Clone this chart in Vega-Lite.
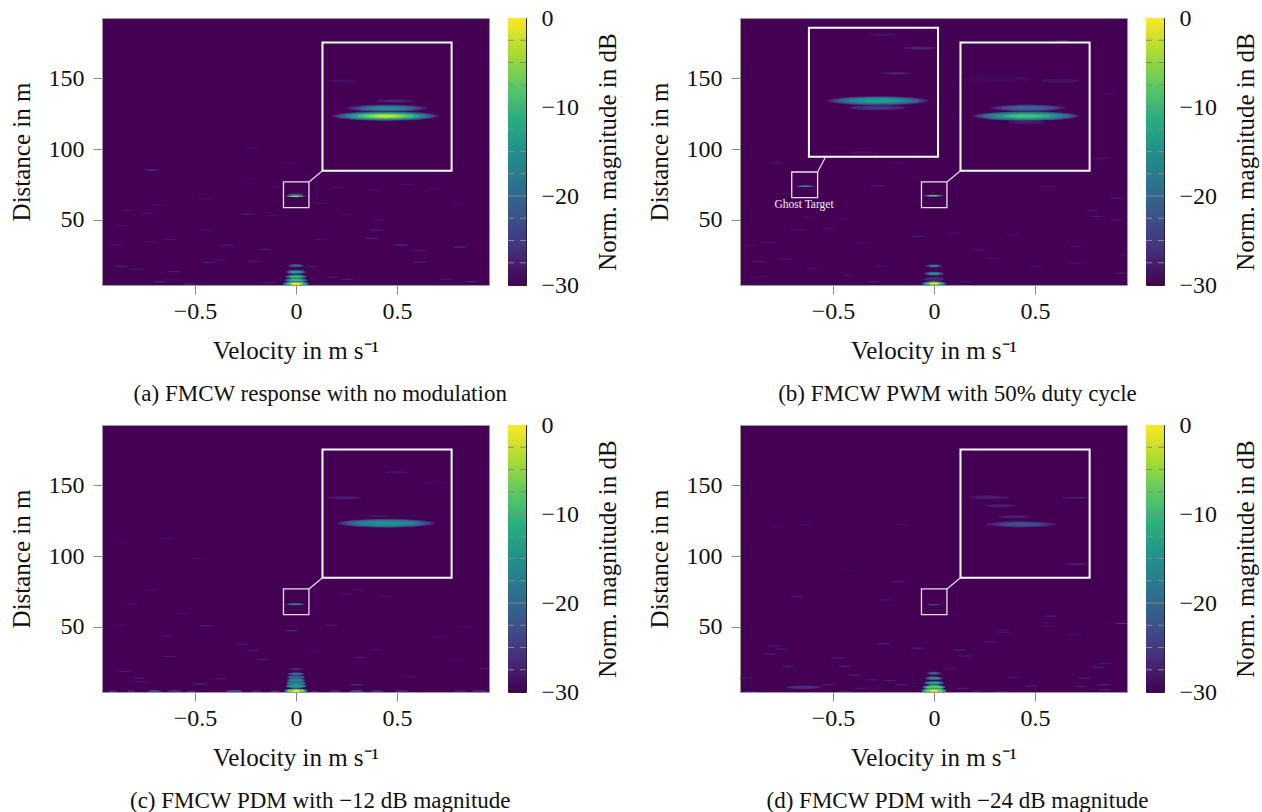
{"$schema":"https://vega.github.io/schema/vega-lite/v6.json","autosize":{"type":"pad"},"padding":{"left":8,"top":5,"right":0,"bottom":0},"background":"white","bounds":"flush","align":"each","columns":5,"spacing":{"row":140,"column":19},
"config":{"view":{"stroke":"#999999","strokeWidth":1},"axis":{"grid":false,"domain":false,"labelFont":"Liberation Serif","titleFont":"Liberation Serif","labelFontSize":24,"titleFontSize":25,"titleFontWeight":"normal","labelColor":"#111111","titleColor":"#111111","tickColor":"#888888","tickSize":9,"labelOverlap":false,"labelFlush":false},"text":{"font":"Liberation Serif"}},
"datasets":{
"bar":[{"v0":0,"d0":-30,"d1":0}],
"minor":[{"d0":-27.5},{"d0":-25},{"d0":-22.5},{"d0":-17.5},{"d0":-15},{"d0":-12.5},{"d0":-7.5},{"d0":-5},{"d0":-2.5}],
"major":[{"d0":-20},{"d0":-10}],
"inset":[{"v0":0.131,"v1":0.77,"d0":84.7,"d1":175.1}],
"small":[{"v0":-0.062,"v1":0.064,"d0":58.7,"d1":76.8}],
"link":[{"v0":0.064,"v1":0.131,"d0":76.8,"d1":84.7}],
"inset_b":[{"v0":0.131,"v1":0.77,"d0":84.7,"d1":175.1},{"v0":-0.619,"v1":0.02,"d0":94.6,"d1":185.4}],
"small_b":[{"v0":-0.062,"v1":0.064,"d0":58.7,"d1":76.8},{"v0":-0.704,"v1":-0.576,"d0":65.7,"d1":83.8}],
"link_b":[{"v0":0.064,"v1":0.131,"d0":76.8,"d1":84.7},{"v0":-0.576,"v1":-0.536,"d0":83.8,"d1":94.6}],
"noise_a":[{"v0":-0.832,"d0":56.6,"db":-27},{"v0":-0.856,"d0":46,"db":-28},{"v0":-0.738,"d0":54.7,"db":-27},{"v0":-0.683,"d0":60.6,"db":-28},{"v0":-0.238,"d0":54.2,"db":-26},{"v0":-0.122,"d0":53.1,"db":-28},{"v0":0.117,"d0":61.8,"db":-28},{"v0":0.246,"d0":54,"db":-28},{"v0":0.398,"d0":43,"db":-26},{"v0":0.373,"d0":37.1,"db":-25},{"v0":0.521,"d0":32.4,"db":-24},{"v0":0.81,"d0":30.8,"db":-25},{"v0":0.612,"d0":28.4,"db":-27},{"v0":0.612,"d0":20.2,"db":-26},{"v0":-0.436,"d0":20,"db":-25},{"v0":-0.378,"d0":21.4,"db":-28},{"v0":-0.205,"d0":20.9,"db":-27},{"v0":-0.155,"d0":29.4,"db":-27},{"v0":-0.337,"d0":32,"db":-27},{"v0":-0.625,"d0":36.4,"db":-27},{"v0":-0.444,"d0":43,"db":-28},{"v0":-0.716,"d0":34.8,"db":-28},{"v0":-0.889,"d0":32.4,"db":-28},{"v0":-0.865,"d0":17.2,"db":-26},{"v0":-0.782,"d0":15.3,"db":-27},{"v0":-0.601,"d0":13.6,"db":-26},{"v0":-0.675,"d0":6.6,"db":-25},{"v0":-0.526,"d0":4.7,"db":-26},{"v0":-0.617,"d0":7.8,"db":-28},{"v0":0.257,"d0":8.2,"db":-26},{"v0":0.183,"d0":9.6,"db":-27},{"v0":0.125,"d0":36.4,"db":-28},{"v0":0.744,"d0":8.2,"db":-27},{"v0":0.868,"d0":6.6,"db":-25},{"v0":0.802,"d0":61.3,"db":-28},{"v0":0.076,"d0":17.2,"db":-27},{"v0":-0.13,"d0":5.9,"db":-27},{"v0":0.414,"d0":50,"db":-28},{"v0":-0.715,"d0":85.2,"db":-22},{"v0":-0.22,"d0":79,"db":-28},{"v0":-0.1,"d0":73,"db":-28},{"v0":0.2,"d0":73,"db":-28},{"v0":-0.45,"d0":65,"db":-28},{"v0":0.38,"d0":71,"db":-28},{"v0":0.55,"d0":75,"db":-28},{"v0":0.68,"d0":72,"db":-28},{"v0":-0.22,"d0":101,"db":-28.5},{"v0":-0.03,"d0":90,"db":-28.5}],
"noise_b":[{"v0":-0.779,"d0":90.4,"db":-27},{"v0":-0.278,"d0":74,"db":-27},{"v0":-0.177,"d0":90,"db":-28},{"v0":0.905,"d0":65.3,"db":-26},{"v0":0.785,"d0":56.6,"db":-27},{"v0":0.905,"d0":50,"db":-27},{"v0":-0.678,"d0":43,"db":-28},{"v0":-0.518,"d0":44.2,"db":-28},{"v0":-0.077,"d0":38.3,"db":-26},{"v0":0.384,"d0":39.5,"db":-28},{"v0":-0.819,"d0":34.1,"db":-27},{"v0":-0.919,"d0":31.8,"db":-28},{"v0":0.223,"d0":29,"db":-27},{"v0":-0.738,"d0":22.4,"db":-27},{"v0":-0.869,"d0":20.7,"db":-27},{"v0":-0.258,"d0":17.2,"db":-28},{"v0":0.504,"d0":17.2,"db":-28},{"v0":0.945,"d0":25.4,"db":-28},{"v0":-0.358,"d0":33.6,"db":-28},{"v0":0.825,"d0":93.5,"db":-28},{"v0":0.865,"d0":138.6,"db":-28.5},{"v0":0.704,"d0":31.3,"db":-28},{"v0":0.564,"d0":73.5,"db":-28},{"v0":0.805,"d0":52.4,"db":-27},{"v0":-0.458,"d0":51.2,"db":-28},{"v0":-0.618,"d0":52,"db":-28},{"v0":0.103,"d0":40.7,"db":-28},{"v0":-0.298,"d0":6.6,"db":-27},{"v0":0.163,"d0":6.6,"db":-27},{"v0":0.925,"d0":12.5,"db":-27},{"v0":0.704,"d0":19.6,"db":-28},{"v0":0.632,"d0":176.2,"db":-24},{"v0":-0.6,"d0":16,"db":-28},{"v0":-0.42,"d0":11,"db":-28},{"v0":0.3,"d0":23,"db":-28},{"v0":-0.85,"d0":10,"db":-28}],
"noise_c":[{"v0":-0.872,"d0":109.8,"db":-28.5},{"v0":-0.645,"d0":112.4,"db":-28.5},{"v0":-0.495,"d0":98.1,"db":-28.5},{"v0":-0.715,"d0":75.8,"db":-28},{"v0":-0.816,"d0":66.2,"db":-28},{"v0":-0.565,"d0":59.6,"db":-28},{"v0":-0.445,"d0":50.9,"db":-26},{"v0":-0.645,"d0":43.6,"db":-27},{"v0":-0.265,"d0":37.8,"db":-27},{"v0":-0.214,"d0":33.3,"db":-27},{"v0":-0.164,"d0":27.2,"db":-26},{"v0":0.317,"d0":28.6,"db":-27},{"v0":0.397,"d0":34.3,"db":-28},{"v0":0.838,"d0":49.8,"db":-28},{"v0":0.697,"d0":43.2,"db":-28},{"v0":0.256,"d0":73.2,"db":-28},{"v0":0.307,"d0":76.5,"db":-28},{"v0":0.176,"d0":51.2,"db":-28},{"v0":-0.024,"d0":47.4,"db":-25},{"v0":0.777,"d0":26.7,"db":-28},{"v0":-0.846,"d0":18.5,"db":-27},{"v0":-0.766,"d0":11.5,"db":-27},{"v0":-0.475,"d0":9.8,"db":-24},{"v0":-0.375,"d0":13.4,"db":-27},{"v0":0.938,"d0":20.9,"db":-27},{"v0":0.557,"d0":15,"db":-28},{"v0":0.437,"d0":71.3,"db":-28.5},{"v0":-0.866,"d0":51.4,"db":-28.5},{"v0":0.096,"d0":32.6,"db":-28},{"v0":-0.625,"d0":29.1,"db":-27},{"v0":0.299,"d0":9.2,"db":-24},{"v0":-0.78,"d0":14,"db":-26}],
"noise_d":[{"v0":0.581,"d0":57.8,"db":-28},{"v0":0.548,"d0":53.1,"db":-28},{"v0":0.928,"d0":52.6,"db":-22},{"v0":0.573,"d0":50.3,"db":-28},{"v0":0.35,"d0":46.3,"db":-28},{"v0":0.697,"d0":44.4,"db":-28},{"v0":0.276,"d0":39.2,"db":-27},{"v0":-0.252,"d0":38.1,"db":-25},{"v0":-0.788,"d0":36.6,"db":-27},{"v0":-0.755,"d0":34.3,"db":-27},{"v0":-0.079,"d0":35,"db":-26},{"v0":0.127,"d0":33.8,"db":-26},{"v0":-0.813,"d0":30.8,"db":-26},{"v0":0.152,"d0":29.6,"db":-27},{"v0":0.845,"d0":24.4,"db":-27},{"v0":0.812,"d0":21.6,"db":-26},{"v0":-0.442,"d0":22.1,"db":-25},{"v0":-0.722,"d0":22.1,"db":-26},{"v0":0.086,"d0":20.9,"db":-27},{"v0":-0.392,"d0":16.2,"db":-26},{"v0":-0.937,"d0":13.9,"db":-27},{"v0":-0.31,"d0":12.7,"db":-27},{"v0":-0.219,"d0":12.2,"db":-26},{"v0":0.391,"d0":14.6,"db":-27},{"v0":0.746,"d0":13.9,"db":-26},{"v0":0.837,"d0":9.2,"db":-25},{"v0":0.845,"d0":5.7,"db":-25},{"v0":-0.359,"d0":6.8,"db":-26},{"v0":-0.442,"d0":4.5,"db":-26},{"v0":-0.524,"d0":9.2,"db":-26},{"v0":0.136,"d0":6.8,"db":-26},{"v0":0.482,"d0":8.5,"db":-26},{"v0":0.73,"d0":8,"db":-26},{"v0":-0.162,"d0":9.2,"db":-26},{"v0":-0.475,"d0":28.4,"db":-27},{"v0":-0.904,"d0":4.5,"db":-27},{"v0":0.334,"d0":4.5,"db":-26},{"v0":0.218,"d0":5,"db":-26},{"v0":-0.157,"d0":122.3,"db":-28},{"v0":-0.779,"d0":120.2,"db":-28.5},{"v0":-0.638,"d0":121.8,"db":-28.5},{"v0":-0.177,"d0":81.9,"db":-27},{"v0":-0.678,"d0":71.4,"db":-27},{"v0":-0.238,"d0":69,"db":-28},{"v0":-0.418,"d0":89.4,"db":-28.5},{"v0":0.574,"d0":57.3,"db":-28},{"v0":0.344,"d0":47.9,"db":-28},{"v0":0.284,"d0":39.7,"db":-28}],
"blob_a":[{"v0":0.225,"d0":148,"span":0.15,"db":-29},{"v0":0.748,"d0":148,"span":0.024,"db":-29},{"v0":0.49,"d0":133.8,"span":0.185,"db":-28},{"v0":0.49,"d0":133.8,"span":0.1,"db":-26.5},{"v0":0.451,"d0":128.7,"span":0.402,"db":-28},{"v0":0.451,"d0":128.7,"span":0.36,"db":-25},{"v0":0.451,"d0":128.7,"span":0.31,"db":-22},{"v0":0.451,"d0":128.7,"span":0.26,"db":-19},{"v0":0.451,"d0":128.7,"span":0.2,"db":-17},{"v0":0.451,"d0":128.7,"span":0.14,"db":-15.5},{"v0":0.443,"d0":123.2,"span":0.543,"db":-29},{"v0":0.443,"d0":123.2,"span":0.52,"db":-27},{"v0":0.443,"d0":123.2,"span":0.49,"db":-24},{"v0":0.443,"d0":123.2,"span":0.46,"db":-21},{"v0":0.443,"d0":123.2,"span":0.42,"db":-18},{"v0":0.443,"d0":123.2,"span":0.38,"db":-15},{"v0":0.443,"d0":123.2,"span":0.33,"db":-12},{"v0":0.443,"d0":123.2,"span":0.28,"db":-9},{"v0":0.443,"d0":123.2,"span":0.23,"db":-7},{"v0":0.443,"d0":123.2,"span":0.18,"db":-5},{"v0":0.443,"d0":123.2,"span":0.13,"db":-3},{"v0":0.443,"d0":123.2,"span":0.09,"db":-1.5},{"v0":-0.003,"d0":68,"span":0.075,"db":-22},{"v0":-0.003,"d0":66.7,"span":0.101,"db":-25},{"v0":-0.003,"d0":66.7,"span":0.09,"db":-18},{"v0":-0.003,"d0":66.7,"span":0.078,"db":-10},{"v0":-0.003,"d0":66.7,"span":0.05,"db":-3}],
"clutter_a":[{"v0":0,"d0":17.8,"span":0.08,"db":-27},{"v0":0,"d0":17.8,"span":0.06,"db":-20},{"v0":0,"d0":13.4,"span":0.1,"db":-25},{"v0":0,"d0":13.4,"span":0.08,"db":-18},{"v0":0,"d0":13.4,"span":0.05,"db":-13},{"v0":0,"d0":10.1,"span":0.104,"db":-22},{"v0":0,"d0":10.1,"span":0.07,"db":-11},{"v0":0,"d0":7.6,"span":0.11,"db":-20},{"v0":0,"d0":7.6,"span":0.07,"db":-10},{"v0":0,"d0":5,"span":0.13,"db":-20},{"v0":0,"d0":5,"span":0.1,"db":-10},{"v0":0,"d0":5,"span":0.06,"db":-1}],
"blob_b":[{"v0":0.317,"d0":149.3,"span":0.345,"db":-29.5},{"v0":0.622,"d0":148,"span":0.195,"db":-29},{"v0":0.459,"d0":118.8,"span":0.182,"db":-28},{"v0":0.463,"d0":128.9,"span":0.372,"db":-28},{"v0":0.463,"d0":128.9,"span":0.32,"db":-25},{"v0":0.463,"d0":128.9,"span":0.26,"db":-22.5},{"v0":0.463,"d0":128.9,"span":0.18,"db":-20.5},{"v0":0.463,"d0":128.9,"span":0.1,"db":-19.5},{"v0":0.456,"d0":123.2,"span":0.523,"db":-27},{"v0":0.456,"d0":123.2,"span":0.49,"db":-24},{"v0":0.456,"d0":123.2,"span":0.45,"db":-21},{"v0":0.456,"d0":123.2,"span":0.41,"db":-18.5},{"v0":0.456,"d0":123.2,"span":0.36,"db":-16},{"v0":0.456,"d0":123.2,"span":0.3,"db":-13.5},{"v0":0.456,"d0":123.2,"span":0.24,"db":-11},{"v0":0.456,"d0":123.2,"span":0.17,"db":-9},{"v0":0.456,"d0":123.2,"span":0.1,"db":-8},{"v0":-0.28,"d0":129.1,"span":0.272,"db":-27},{"v0":-0.28,"d0":129.1,"span":0.16,"db":-25.5},{"v0":-0.277,"d0":134,"span":0.498,"db":-27},{"v0":-0.277,"d0":134,"span":0.45,"db":-24},{"v0":-0.277,"d0":134,"span":0.4,"db":-21},{"v0":-0.277,"d0":134,"span":0.35,"db":-18.5},{"v0":-0.277,"d0":134,"span":0.29,"db":-16},{"v0":-0.277,"d0":134,"span":0.22,"db":-14.5},{"v0":-0.277,"d0":134,"span":0.13,"db":-13},{"v0":-0.185,"d0":153.3,"span":0.149,"db":-28},{"v0":-0.185,"d0":153.3,"span":0.08,"db":-27},{"v0":-0.07,"d0":171.1,"span":0.166,"db":-28},{"v0":-0.07,"d0":171.1,"span":0.1,"db":-26.5},{"v0":-0.255,"d0":180.5,"span":0.144,"db":-29},{"v0":-0.35,"d0":97.4,"span":0.149,"db":-29},{"v0":-0.003,"d0":67.1,"span":0.105,"db":-26},{"v0":-0.003,"d0":67.1,"span":0.09,"db":-19},{"v0":-0.003,"d0":67.1,"span":0.07,"db":-11},{"v0":-0.003,"d0":67.1,"span":0.04,"db":-6},{"v0":-0.636,"d0":73.7,"span":0.094,"db":-26},{"v0":-0.636,"d0":73.7,"span":0.08,"db":-19},{"v0":-0.636,"d0":73.7,"span":0.055,"db":-13}],
"clutter_b":[{"v0":0,"d0":17.6,"span":0.08,"db":-26},{"v0":0,"d0":17.6,"span":0.05,"db":-17},{"v0":0,"d0":8.5,"span":0.1,"db":-27},{"v0":0,"d0":12.2,"span":0.096,"db":-24},{"v0":0,"d0":12.2,"span":0.06,"db":-15},{"v0":0,"d0":5.2,"span":0.12,"db":-20},{"v0":0,"d0":5.2,"span":0.09,"db":-10},{"v0":0,"d0":5.2,"span":0.05,"db":-1}],
"blob_c":[{"v0":0.41,"d0":128,"span":0.109,"db":-28.5},{"v0":0.24,"d0":141,"span":0.167,"db":-28},{"v0":0.24,"d0":141,"span":0.1,"db":-27.5},{"v0":0.496,"d0":158.9,"span":0.114,"db":-28.5},{"v0":0.685,"d0":151.6,"span":0.149,"db":-29.5},{"v0":0.446,"d0":123,"span":0.482,"db":-27},{"v0":0.446,"d0":123,"span":0.44,"db":-24},{"v0":0.446,"d0":123,"span":0.39,"db":-21},{"v0":0.446,"d0":123,"span":0.34,"db":-18.5},{"v0":0.446,"d0":123,"span":0.28,"db":-16.5},{"v0":0.446,"d0":123,"span":0.2,"db":-15.5},{"v0":0.446,"d0":123,"span":0.13,"db":-15},{"v0":-0.003,"d0":66,"span":0.091,"db":-24},{"v0":-0.003,"d0":66,"span":0.08,"db":-17},{"v0":-0.003,"d0":66,"span":0.055,"db":-13}],
"clutter_c":[{"v0":0,"d0":20.2,"span":0.06,"db":-27},{"v0":0,"d0":16.9,"span":0.08,"db":-24},{"v0":0,"d0":16.9,"span":0.05,"db":-19},{"v0":0,"d0":14.6,"span":0.085,"db":-21},{"v0":0,"d0":12.5,"span":0.09,"db":-22},{"v0":0,"d0":12.5,"span":0.07,"db":-16},{"v0":0,"d0":10.4,"span":0.095,"db":-18},{"v0":0,"d0":8.4,"span":0.104,"db":-20},{"v0":0,"d0":8.4,"span":0.08,"db":-14},{"v0":0,"d0":5,"span":0.116,"db":-17},{"v0":0,"d0":5,"span":0.09,"db":-6},{"v0":0,"d0":4.8,"span":0.04,"db":0},{"v0":-0.907,"d0":4.6,"span":0.045,"db":-26},{"v0":-0.815,"d0":4.6,"span":0.04,"db":-26},{"v0":-0.7,"d0":4.6,"span":0.07,"db":-24},{"v0":-0.6,"d0":4.6,"span":0.07,"db":-26},{"v0":-0.517,"d0":4.6,"span":0.045,"db":-26},{"v0":-0.305,"d0":4.6,"span":0.08,"db":-24},{"v0":-0.195,"d0":4.6,"span":0.05,"db":-26},{"v0":-0.105,"d0":4.6,"span":0.05,"db":-26},{"v0":0.092,"d0":4.6,"span":0.035,"db":-26},{"v0":0.192,"d0":4.6,"span":0.055,"db":-27},{"v0":0.3,"d0":4.6,"span":0.07,"db":-24},{"v0":0.4,"d0":4.6,"span":0.06,"db":-26},{"v0":0.522,"d0":4.6,"span":0.065,"db":-27},{"v0":0.81,"d0":4.6,"span":0.06,"db":-27},{"v0":0.91,"d0":4.6,"span":0.08,"db":-27}],
"blob_d":[{"v0":0.432,"d0":122.3,"span":0.35,"db":-28},{"v0":0.432,"d0":122.3,"span":0.29,"db":-26},{"v0":0.432,"d0":122.3,"span":0.23,"db":-24},{"v0":0.432,"d0":122.3,"span":0.16,"db":-22.5},{"v0":0.4,"d0":127.7,"span":0.165,"db":-28},{"v0":0.4,"d0":127.7,"span":0.09,"db":-27},{"v0":0.33,"d0":135.4,"span":0.157,"db":-28},{"v0":0.33,"d0":135.4,"span":0.09,"db":-27},{"v0":0.273,"d0":141.3,"span":0.206,"db":-28.5},{"v0":0.273,"d0":141.3,"span":0.11,"db":-27.5},{"v0":0.697,"d0":141,"span":0.13,"db":-28},{"v0":0.705,"d0":94.2,"span":0.113,"db":-28},{"v0":0.705,"d0":94.2,"span":0.06,"db":-27},{"v0":-0.003,"d0":65.7,"span":0.066,"db":-26},{"v0":-0.003,"d0":65.7,"span":0.05,"db":-22},{"v0":-0.644,"d0":7.5,"span":0.174,"db":-26}],
"clutter_d":[{"v0":0,"d0":17.4,"span":0.07,"db":-24},{"v0":0,"d0":17.4,"span":0.04,"db":-19},{"v0":0,"d0":13.9,"span":0.084,"db":-22},{"v0":0,"d0":13.9,"span":0.056,"db":-17},{"v0":0,"d0":10.6,"span":0.096,"db":-20},{"v0":0,"d0":10.6,"span":0.06,"db":-13},{"v0":0,"d0":7.6,"span":0.11,"db":-15},{"v0":0,"d0":7.6,"span":0.08,"db":-8},{"v0":0,"d0":5,"span":0.124,"db":-14},{"v0":0,"d0":5,"span":0.09,"db":-6},{"v0":0,"d0":5,"span":0.044,"db":0}]
},
"concat":[
{"width":387,"height":267,"view":{"fill":"#440154"},"encoding":{"x":{"field":"v0","type":"quantitative","scale":{"domain":[-0.96,0.955]},"axis":{"values":[-0.5,0,0.5],"format":".1~f","labelPadding":5,"titlePadding":15},"title":"Velocity in m s⁻¹"},"y":{"field":"d0","type":"quantitative","scale":{"domain":[4.2,192.3]},"axis":{"values":[50,100,150],"labelPadding":9,"titlePadding":14},"title":"Distance in m"}},
"layer":[
{"data":{"name":"noise_a"},"mark":{"type":"point","clip":true,"shape":"M-1,0C-1,-0.05,-0.55,-0.09,0,-0.09C0.55,-0.09,1,-0.05,1,0C1,0.05,0.55,0.09,0,0.09C-0.55,0.09,-1,0.05,-1,0Z","filled":true,"size":220,"opacity":0.7,"strokeWidth":0},"encoding":{"color":{"field":"db","type":"quantitative","scale":{"scheme":"viridis","domain":[-30,0]},"legend":null}}},
{"data":{"name":"inset"},"mark":{"type":"rect","fill":"#440154","stroke":"white","strokeWidth":2},"encoding":{"x2":{"field":"v1"},"y2":{"field":"d1"}}},
{"data":{"name":"blob_a"},"mark":{"type":"point","shape":"M-1,0C-1,-0.05,-0.55,-0.09,0,-0.09C0.55,-0.09,1,-0.05,1,0C1,0.05,0.55,0.09,0,0.09C-0.55,0.09,-1,0.05,-1,0Z","filled":true,"opacity":1,"strokeWidth":0},"encoding":{"size":{"field":"span","type":"quantitative","scale":{"type":"pow","exponent":2,"domain":[0,1],"range":[0,40804]},"legend":null},"color":{"field":"db","type":"quantitative","scale":{"scheme":"viridis","domain":[-30,0]},"legend":null}}},
{"data":{"name":"clutter_a"},"mark":{"type":"point","clip":true,"shape":"M-1,0C-1,-0.11,-0.55,-0.2,0,-0.2C0.55,-0.2,1,-0.11,1,0C1,0.11,0.55,0.2,0,0.2C-0.55,0.2,-1,0.11,-1,0Z","filled":true,"opacity":1,"strokeWidth":0},"encoding":{"size":{"field":"span","type":"quantitative","scale":{"type":"pow","exponent":2,"domain":[0,1],"range":[0,40804]},"legend":null},"color":{"field":"db","type":"quantitative","scale":{"scheme":"viridis","domain":[-30,0]},"legend":null}}},
{"data":{"name":"small"},"mark":{"type":"rect","fillOpacity":0,"stroke":"#eadff0","strokeWidth":1.3},"encoding":{"x2":{"field":"v1"},"y2":{"field":"d1"}}},
{"data":{"name":"link"},"mark":{"type":"rule","color":"#eadff0","strokeWidth":1.2},"encoding":{"x2":{"field":"v1"},"y2":{"field":"d1"}}},
{"data":{"values":[{"v0":0.12,"d0":-72.5,"t":"(a) FMCW response with no modulation"}]},"mark":{"type":"text","fontSize":23,"color":"#111111","baseline":"middle"},"encoding":{"text":{"field":"t"}}}
]},
{"width":18,"height":267,"view":{"stroke":"#222222"},"data":{"name":"bar"},"encoding":{"y":{"field":"d0","type":"quantitative","scale":{"domain":[-30,0]},"axis":{"orient":"right","values":[-30,-20,-10,0],"format":"d","ticks":false,"labelPadding":15,"labelAlign":"left","titlePadding":42,"titleAngle":270},"title":"Norm. magnitude in dB"}},
"layer":[
{"mark":{"type":"rect","color":{"gradient":"linear","x1":0,"y1":1,"x2":0,"y2":0,"stops":[{"offset":0,"color":"#440154"},{"offset":0.125,"color":"#472d7b"},{"offset":0.25,"color":"#3b528b"},{"offset":0.375,"color":"#2c728e"},{"offset":0.5,"color":"#21918c"},{"offset":0.625,"color":"#28ae80"},{"offset":0.75,"color":"#5ec962"},{"offset":0.875,"color":"#addc30"},{"offset":1,"color":"#fde725"}]}},"encoding":{"y2":{"field":"d1"}}},
{"data":{"name":"minor"},"mark":{"type":"rule","color":"#888888","strokeWidth":1,"strokeDash":[6,6,6]},"encoding":{}},
{"data":{"name":"major"},"mark":{"type":"rule","color":"#888888","strokeWidth":1},"encoding":{}}
]},
{"width":176,"height":267,"view":{"stroke":null},"data":{"values":[]},"mark":{"type":"rect","opacity":0},"encoding":{}},
{"width":387,"height":267,"view":{"fill":"#440154"},"encoding":{"x":{"field":"v0","type":"quantitative","scale":{"domain":[-0.96,0.955]},"axis":{"values":[-0.5,0,0.5],"format":".1~f","labelPadding":5,"titlePadding":15},"title":"Velocity in m s⁻¹"},"y":{"field":"d0","type":"quantitative","scale":{"domain":[4.2,192.3]},"axis":{"values":[50,100,150],"labelPadding":9,"titlePadding":14},"title":"Distance in m"}},
"layer":[
{"data":{"name":"noise_b"},"mark":{"type":"point","clip":true,"shape":"M-1,0C-1,-0.05,-0.55,-0.09,0,-0.09C0.55,-0.09,1,-0.05,1,0C1,0.05,0.55,0.09,0,0.09C-0.55,0.09,-1,0.05,-1,0Z","filled":true,"size":220,"opacity":0.7,"strokeWidth":0},"encoding":{"color":{"field":"db","type":"quantitative","scale":{"scheme":"viridis","domain":[-30,0]},"legend":null}}},
{"data":{"name":"inset_b"},"mark":{"type":"rect","fill":"#440154","stroke":"white","strokeWidth":2},"encoding":{"x2":{"field":"v1"},"y2":{"field":"d1"}}},
{"data":{"name":"blob_b"},"mark":{"type":"point","shape":"M-1,0C-1,-0.05,-0.55,-0.09,0,-0.09C0.55,-0.09,1,-0.05,1,0C1,0.05,0.55,0.09,0,0.09C-0.55,0.09,-1,0.05,-1,0Z","filled":true,"opacity":1,"strokeWidth":0},"encoding":{"size":{"field":"span","type":"quantitative","scale":{"type":"pow","exponent":2,"domain":[0,1],"range":[0,40804]},"legend":null},"color":{"field":"db","type":"quantitative","scale":{"scheme":"viridis","domain":[-30,0]},"legend":null}}},
{"data":{"name":"clutter_b"},"mark":{"type":"point","clip":true,"shape":"M-1,0C-1,-0.11,-0.55,-0.2,0,-0.2C0.55,-0.2,1,-0.11,1,0C1,0.11,0.55,0.2,0,0.2C-0.55,0.2,-1,0.11,-1,0Z","filled":true,"opacity":1,"strokeWidth":0},"encoding":{"size":{"field":"span","type":"quantitative","scale":{"type":"pow","exponent":2,"domain":[0,1],"range":[0,40804]},"legend":null},"color":{"field":"db","type":"quantitative","scale":{"scheme":"viridis","domain":[-30,0]},"legend":null}}},
{"data":{"name":"small_b"},"mark":{"type":"rect","fillOpacity":0,"stroke":"#eadff0","strokeWidth":1.3},"encoding":{"x2":{"field":"v1"},"y2":{"field":"d1"}}},
{"data":{"name":"link_b"},"mark":{"type":"rule","color":"#eadff0","strokeWidth":1.2},"encoding":{"x2":{"field":"v1"},"y2":{"field":"d1"}}},
{"data":{"values":[{"v0":-0.643,"d0":60.6,"t":"Ghost Target"}]},"mark":{"type":"text","fontSize":11.5,"color":"#f4eef6","baseline":"middle"},"encoding":{"text":{"field":"t"}}},
{"data":{"values":[{"v0":0.116,"d0":-72.5,"t":"(b) FMCW PWM with 50% duty cycle"}]},"mark":{"type":"text","fontSize":23,"color":"#111111","baseline":"middle"},"encoding":{"text":{"field":"t"}}}
]},
{"width":18,"height":267,"view":{"stroke":"#222222"},"data":{"name":"bar"},"encoding":{"y":{"field":"d0","type":"quantitative","scale":{"domain":[-30,0]},"axis":{"orient":"right","values":[-30,-20,-10,0],"format":"d","ticks":false,"labelPadding":15,"labelAlign":"left","titlePadding":42,"titleAngle":270},"title":"Norm. magnitude in dB"}},
"layer":[
{"mark":{"type":"rect","color":{"gradient":"linear","x1":0,"y1":1,"x2":0,"y2":0,"stops":[{"offset":0,"color":"#440154"},{"offset":0.125,"color":"#472d7b"},{"offset":0.25,"color":"#3b528b"},{"offset":0.375,"color":"#2c728e"},{"offset":0.5,"color":"#21918c"},{"offset":0.625,"color":"#28ae80"},{"offset":0.75,"color":"#5ec962"},{"offset":0.875,"color":"#addc30"},{"offset":1,"color":"#fde725"}]}},"encoding":{"y2":{"field":"d1"}}},
{"data":{"name":"minor"},"mark":{"type":"rule","color":"#888888","strokeWidth":1,"strokeDash":[6,6,6]},"encoding":{}},
{"data":{"name":"major"},"mark":{"type":"rule","color":"#888888","strokeWidth":1},"encoding":{}}
]},
{"width":387,"height":267,"view":{"fill":"#440154"},"encoding":{"x":{"field":"v0","type":"quantitative","scale":{"domain":[-0.96,0.955]},"axis":{"values":[-0.5,0,0.5],"format":".1~f","labelPadding":5,"titlePadding":15},"title":"Velocity in m s⁻¹"},"y":{"field":"d0","type":"quantitative","scale":{"domain":[4.2,192.3]},"axis":{"values":[50,100,150],"labelPadding":9,"titlePadding":14},"title":"Distance in m"}},
"layer":[
{"data":{"name":"noise_c"},"mark":{"type":"point","clip":true,"shape":"M-1,0C-1,-0.05,-0.55,-0.09,0,-0.09C0.55,-0.09,1,-0.05,1,0C1,0.05,0.55,0.09,0,0.09C-0.55,0.09,-1,0.05,-1,0Z","filled":true,"size":220,"opacity":0.7,"strokeWidth":0},"encoding":{"color":{"field":"db","type":"quantitative","scale":{"scheme":"viridis","domain":[-30,0]},"legend":null}}},
{"data":{"name":"inset"},"mark":{"type":"rect","fill":"#440154","stroke":"white","strokeWidth":2},"encoding":{"x2":{"field":"v1"},"y2":{"field":"d1"}}},
{"data":{"name":"blob_c"},"mark":{"type":"point","shape":"M-1,0C-1,-0.05,-0.55,-0.09,0,-0.09C0.55,-0.09,1,-0.05,1,0C1,0.05,0.55,0.09,0,0.09C-0.55,0.09,-1,0.05,-1,0Z","filled":true,"opacity":1,"strokeWidth":0},"encoding":{"size":{"field":"span","type":"quantitative","scale":{"type":"pow","exponent":2,"domain":[0,1],"range":[0,40804]},"legend":null},"color":{"field":"db","type":"quantitative","scale":{"scheme":"viridis","domain":[-30,0]},"legend":null}}},
{"data":{"name":"clutter_c"},"mark":{"type":"point","clip":true,"shape":"M-1,0C-1,-0.11,-0.55,-0.2,0,-0.2C0.55,-0.2,1,-0.11,1,0C1,0.11,0.55,0.2,0,0.2C-0.55,0.2,-1,0.11,-1,0Z","filled":true,"opacity":1,"strokeWidth":0},"encoding":{"size":{"field":"span","type":"quantitative","scale":{"type":"pow","exponent":2,"domain":[0,1],"range":[0,40804]},"legend":null},"color":{"field":"db","type":"quantitative","scale":{"scheme":"viridis","domain":[-30,0]},"legend":null}}},
{"data":{"name":"small"},"mark":{"type":"rect","fillOpacity":0,"stroke":"#eadff0","strokeWidth":1.3},"encoding":{"x2":{"field":"v1"},"y2":{"field":"d1"}}},
{"data":{"name":"link"},"mark":{"type":"rule","color":"#eadff0","strokeWidth":1.2},"encoding":{"x2":{"field":"v1"},"y2":{"field":"d1"}}},
{"data":{"values":[{"v0":0.12,"d0":-72.5,"t":"(c) FMCW PDM with −12 dB magnitude"}]},"mark":{"type":"text","fontSize":23,"color":"#111111","baseline":"middle"},"encoding":{"text":{"field":"t"}}}
]},
{"width":18,"height":267,"view":{"stroke":"#222222"},"data":{"name":"bar"},"encoding":{"y":{"field":"d0","type":"quantitative","scale":{"domain":[-30,0]},"axis":{"orient":"right","values":[-30,-20,-10,0],"format":"d","ticks":false,"labelPadding":15,"labelAlign":"left","titlePadding":42,"titleAngle":270},"title":"Norm. magnitude in dB"}},
"layer":[
{"mark":{"type":"rect","color":{"gradient":"linear","x1":0,"y1":1,"x2":0,"y2":0,"stops":[{"offset":0,"color":"#440154"},{"offset":0.125,"color":"#472d7b"},{"offset":0.25,"color":"#3b528b"},{"offset":0.375,"color":"#2c728e"},{"offset":0.5,"color":"#21918c"},{"offset":0.625,"color":"#28ae80"},{"offset":0.75,"color":"#5ec962"},{"offset":0.875,"color":"#addc30"},{"offset":1,"color":"#fde725"}]}},"encoding":{"y2":{"field":"d1"}}},
{"data":{"name":"minor"},"mark":{"type":"rule","color":"#888888","strokeWidth":1,"strokeDash":[6,6,6]},"encoding":{}},
{"data":{"name":"major"},"mark":{"type":"rule","color":"#888888","strokeWidth":1},"encoding":{}}
]},
{"width":176,"height":267,"view":{"stroke":null},"data":{"values":[]},"mark":{"type":"rect","opacity":0},"encoding":{}},
{"width":387,"height":267,"view":{"fill":"#440154"},"encoding":{"x":{"field":"v0","type":"quantitative","scale":{"domain":[-0.96,0.955]},"axis":{"values":[-0.5,0,0.5],"format":".1~f","labelPadding":5,"titlePadding":15},"title":"Velocity in m s⁻¹"},"y":{"field":"d0","type":"quantitative","scale":{"domain":[4.2,192.3]},"axis":{"values":[50,100,150],"labelPadding":9,"titlePadding":14},"title":"Distance in m"}},
"layer":[
{"data":{"name":"noise_d"},"mark":{"type":"point","clip":true,"shape":"M-1,0C-1,-0.05,-0.55,-0.09,0,-0.09C0.55,-0.09,1,-0.05,1,0C1,0.05,0.55,0.09,0,0.09C-0.55,0.09,-1,0.05,-1,0Z","filled":true,"size":220,"opacity":0.7,"strokeWidth":0},"encoding":{"color":{"field":"db","type":"quantitative","scale":{"scheme":"viridis","domain":[-30,0]},"legend":null}}},
{"data":{"name":"inset"},"mark":{"type":"rect","fill":"#440154","stroke":"white","strokeWidth":2},"encoding":{"x2":{"field":"v1"},"y2":{"field":"d1"}}},
{"data":{"name":"blob_d"},"mark":{"type":"point","shape":"M-1,0C-1,-0.05,-0.55,-0.09,0,-0.09C0.55,-0.09,1,-0.05,1,0C1,0.05,0.55,0.09,0,0.09C-0.55,0.09,-1,0.05,-1,0Z","filled":true,"opacity":1,"strokeWidth":0},"encoding":{"size":{"field":"span","type":"quantitative","scale":{"type":"pow","exponent":2,"domain":[0,1],"range":[0,40804]},"legend":null},"color":{"field":"db","type":"quantitative","scale":{"scheme":"viridis","domain":[-30,0]},"legend":null}}},
{"data":{"name":"clutter_d"},"mark":{"type":"point","clip":true,"shape":"M-1,0C-1,-0.11,-0.55,-0.2,0,-0.2C0.55,-0.2,1,-0.11,1,0C1,0.11,0.55,0.2,0,0.2C-0.55,0.2,-1,0.11,-1,0Z","filled":true,"opacity":1,"strokeWidth":0},"encoding":{"size":{"field":"span","type":"quantitative","scale":{"type":"pow","exponent":2,"domain":[0,1],"range":[0,40804]},"legend":null},"color":{"field":"db","type":"quantitative","scale":{"scheme":"viridis","domain":[-30,0]},"legend":null}}},
{"data":{"name":"small"},"mark":{"type":"rect","fillOpacity":0,"stroke":"#eadff0","strokeWidth":1.3},"encoding":{"x2":{"field":"v1"},"y2":{"field":"d1"}}},
{"data":{"name":"link"},"mark":{"type":"rule","color":"#eadff0","strokeWidth":1.2},"encoding":{"x2":{"field":"v1"},"y2":{"field":"d1"}}},
{"data":{"values":[{"v0":0.116,"d0":-72.5,"t":"(d) FMCW PDM with −24 dB magnitude"}]},"mark":{"type":"text","fontSize":23,"color":"#111111","baseline":"middle"},"encoding":{"text":{"field":"t"}}}
]},
{"width":18,"height":267,"view":{"stroke":"#222222"},"data":{"name":"bar"},"encoding":{"y":{"field":"d0","type":"quantitative","scale":{"domain":[-30,0]},"axis":{"orient":"right","values":[-30,-20,-10,0],"format":"d","ticks":false,"labelPadding":15,"labelAlign":"left","titlePadding":42,"titleAngle":270},"title":"Norm. magnitude in dB"}},
"layer":[
{"mark":{"type":"rect","color":{"gradient":"linear","x1":0,"y1":1,"x2":0,"y2":0,"stops":[{"offset":0,"color":"#440154"},{"offset":0.125,"color":"#472d7b"},{"offset":0.25,"color":"#3b528b"},{"offset":0.375,"color":"#2c728e"},{"offset":0.5,"color":"#21918c"},{"offset":0.625,"color":"#28ae80"},{"offset":0.75,"color":"#5ec962"},{"offset":0.875,"color":"#addc30"},{"offset":1,"color":"#fde725"}]}},"encoding":{"y2":{"field":"d1"}}},
{"data":{"name":"minor"},"mark":{"type":"rule","color":"#888888","strokeWidth":1,"strokeDash":[6,6,6]},"encoding":{}},
{"data":{"name":"major"},"mark":{"type":"rule","color":"#888888","strokeWidth":1},"encoding":{}}
]}
]}
